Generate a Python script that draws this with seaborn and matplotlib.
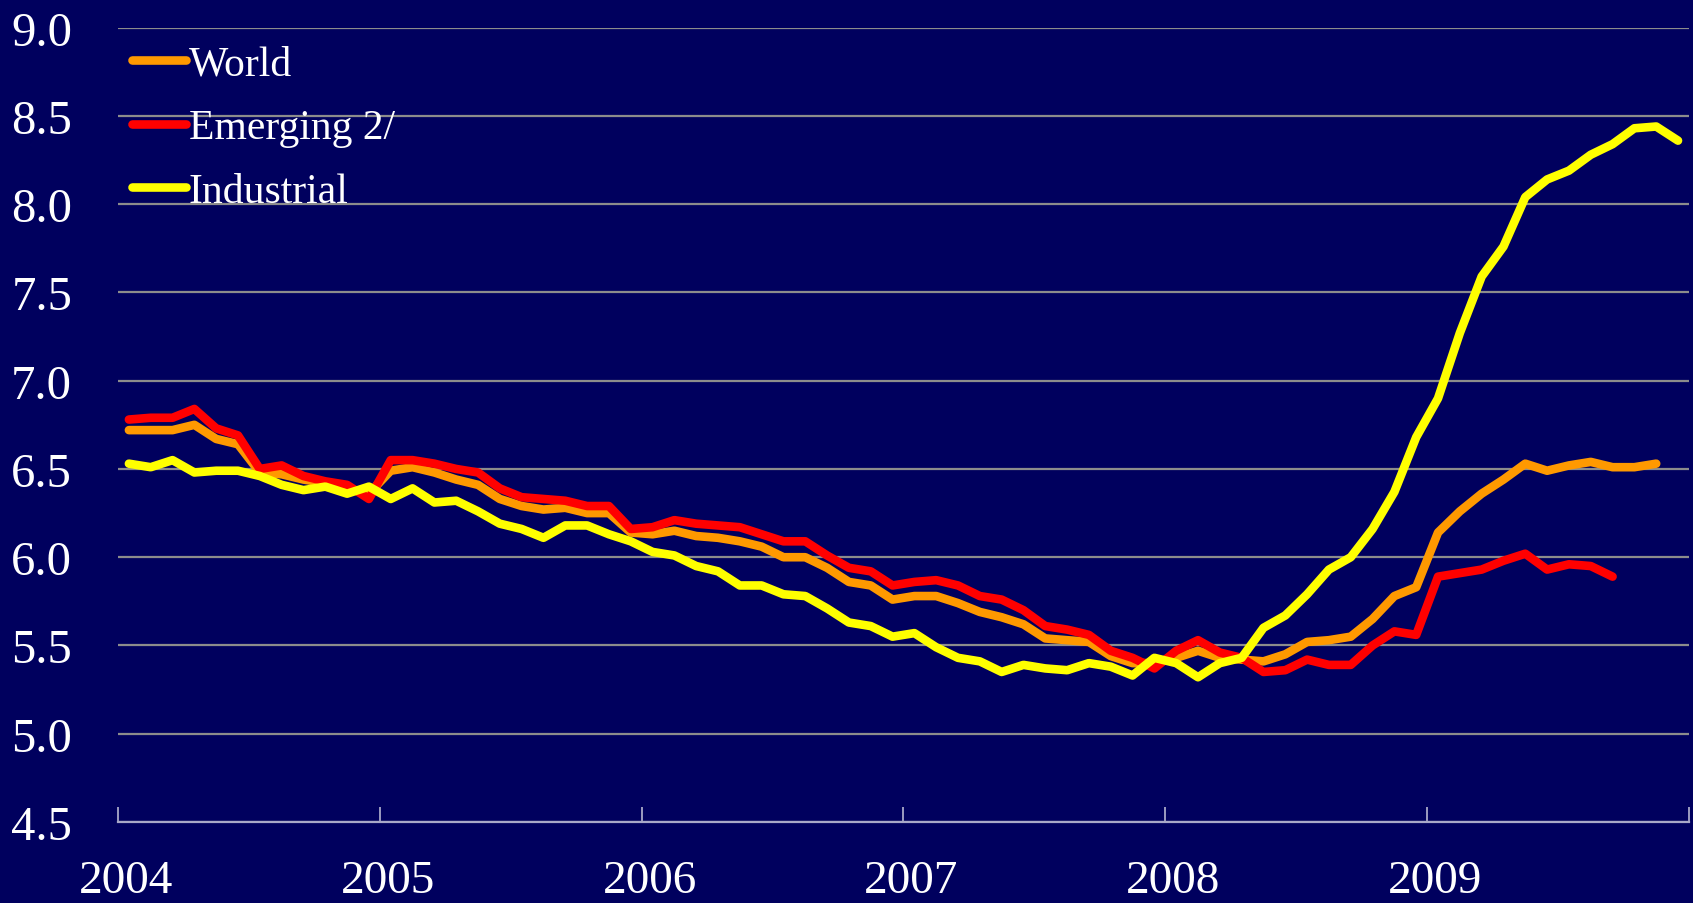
import numpy as np
import pandas as pd
import matplotlib
matplotlib.use("Agg")
import matplotlib.pyplot as plt
import matplotlib.transforms as mtransforms
import seaborn as sns

# monthly series, Jan 2004 onwards (percent)
world = [6.72, 6.72, 6.72, 6.75, 6.67, 6.64, 6.48, 6.47, 6.44, 6.42, 6.39, 6.36,
         6.49, 6.51, 6.48, 6.44, 6.41, 6.33, 6.29, 6.27, 6.28, 6.25, 6.25, 6.14,
         6.13, 6.15, 6.12, 6.11, 6.09, 6.06, 6.00, 6.00, 5.94, 5.86, 5.84, 5.76,
         5.78, 5.78, 5.74, 5.69, 5.66, 5.62, 5.54, 5.53, 5.52, 5.44, 5.40, 5.40,
         5.43, 5.47, 5.43, 5.42, 5.41, 5.45, 5.52, 5.53, 5.55, 5.65, 5.78, 5.83,
         6.14, 6.26, 6.36, 6.44, 6.53, 6.49, 6.52, 6.54, 6.51, 6.51, 6.53]
emerging = [6.78, 6.79, 6.79, 6.84, 6.73, 6.69, 6.50, 6.52, 6.46, 6.43, 6.41, 6.33,
            6.55, 6.55, 6.53, 6.50, 6.48, 6.39, 6.34, 6.33, 6.32, 6.29, 6.29, 6.16,
            6.17, 6.21, 6.19, 6.18, 6.17, 6.13, 6.09, 6.09, 6.01, 5.94, 5.92, 5.84,
            5.86, 5.87, 5.84, 5.78, 5.76, 5.70, 5.61, 5.59, 5.56, 5.47, 5.43, 5.37,
            5.47, 5.53, 5.46, 5.43, 5.35, 5.36, 5.42, 5.39, 5.39, 5.50, 5.58, 5.56,
            5.89, 5.91, 5.93, 5.98, 6.02, 5.93, 5.96, 5.95, 5.89]
industrial = [6.53, 6.51, 6.55, 6.48, 6.49, 6.49, 6.46, 6.41, 6.38, 6.40, 6.36, 6.40,
              6.33, 6.39, 6.31, 6.32, 6.26, 6.19, 6.16, 6.11, 6.18, 6.18, 6.13, 6.09,
              6.03, 6.01, 5.95, 5.92, 5.84, 5.84, 5.79, 5.78, 5.71, 5.63, 5.61, 5.55,
              5.57, 5.49, 5.43, 5.41, 5.35, 5.39, 5.37, 5.36, 5.40, 5.38, 5.33, 5.43,
              5.40, 5.32, 5.40, 5.43, 5.60, 5.67, 5.79, 5.93, 6.00, 6.16, 6.37, 6.68,
              6.90, 7.27, 7.59, 7.76, 8.04, 8.14, 8.19, 8.28, 8.34, 8.43, 8.44, 8.36]

series_names = ["World", "Emerging 2/", "Industrial"]
series_colors = ["#FF9900", "#FF0000", "#FFFF00"]
years = ["2004", "2005", "2006", "2007", "2008", "2009"]
y_ticks = [4.5, 5.0, 5.5, 6.0, 6.5, 7.0, 7.5, 8.0, 8.5, 9.0]

# long form: one row per month per series, month placed mid-category
frames = []
for name, vals in zip(series_names, [world, emerging, industrial]):
    frames.append(pd.DataFrame({"month": np.arange(len(vals)) + 0.5,
                                "value": vals, "series": name}))
df = pd.concat(frames, ignore_index=True)

BG = "#00005E"
sns.set_style("white", {"axes.facecolor": BG, "figure.facecolor": BG})
plt.rcParams["font.family"] = ["Liberation Serif", "DejaVu Serif"]

fig = plt.figure(figsize=(16.93, 9.04), dpi=100)
ax = fig.add_axes([0.0697, 0.0896, 0.9279, 0.8787])

sns.lineplot(data=df, x="month", y="value", hue="series", hue_order=series_names,
             palette=series_colors, linewidth=6.2, legend=False, ax=ax,
             solid_capstyle="round", solid_joinstyle="round")

ax.set_xlim(0, 12 * len(years))
ax.set_ylim(4.5, 9.0)
ax.set_xlabel("")
ax.set_ylabel("")

ax.set_yticks(y_ticks)
ax.set_yticklabels([f"{v:.1f}" for v in y_ticks])
ax.set_xticks(np.arange(0, 12 * len(years) + 1, 12))
ax.set_xticklabels(years + [""])

ax.yaxis.grid(True, color="#8C8C8C", linewidth=1.6)
ax.xaxis.grid(False)
ax.set_axisbelow(True)
for s in ["top", "right", "left"]:
    ax.spines[s].set_visible(False)
ax.spines["bottom"].set_color("#A8A8C8")
ax.spines["bottom"].set_linewidth(1.6)

ax.tick_params(axis="y", left=False, length=0, pad=33, labelsize=35, colors="white")
ax.tick_params(axis="x", bottom=True, direction="in", length=11, width=1.3,
               color="#A8A8C8", pad=27, labelsize=34, labelcolor="white")
# year labels sit a little right of their tick
shift = mtransforms.ScaledTranslation(8 / 100, 0, fig.dpi_scale_trans)
for lab in ax.get_xticklabels():
    lab.set_transform(lab.get_transform() + shift)

leg = ax.legend(handles=ax.get_lines()[:3], labels=series_names,
                loc="upper left", bbox_to_anchor=(0.009, 0.978), frameon=False,
                fontsize=30, handlelength=1.3, handletextpad=0.06,
                labelspacing=0.6, borderaxespad=0, borderpad=0)
for t in leg.get_texts():
    t.set_color("white")

fig.savefig("out.png", dpi=100, facecolor=BG)
